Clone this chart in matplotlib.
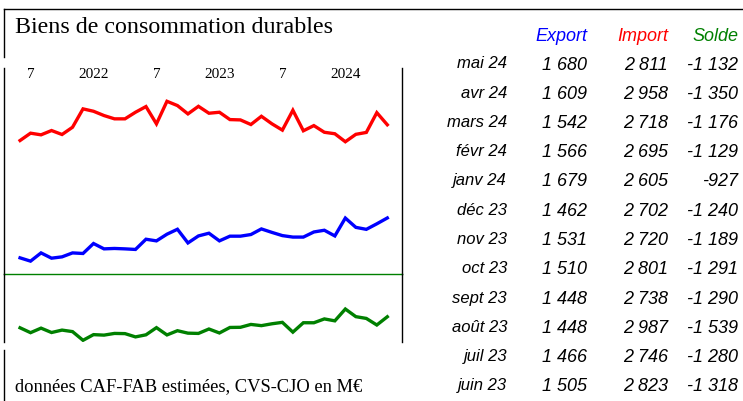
"""Biens de consommation durables: export / import / solde, monthly, with recent-months table."""

import matplotlib
matplotlib.use("Agg")
import matplotlib.pyplot as plt
import numpy as np
from matplotlib.lines import Line2D

# monthly series, June 2021 -> May 2024 (M EUR)
exports = [1196, 1156, 1256, 1192, 1208, 1256, 1249, 1370, 1305, 1310, 1305, 1298,
           1422, 1402, 1483, 1543, 1377, 1462, 1495, 1402, 1459, 1459, 1479, 1547,
           1505, 1466, 1448, 1448, 1510, 1531, 1462, 1679, 1566, 1542, 1609, 1680]
imports = [2620, 2709, 2689, 2741, 2693, 2781, 3004, 2975, 2923, 2883, 2883, 2963,
           3032, 2822, 3096, 3044, 2943, 3035, 2951, 2963, 2874, 2870, 2814, 2914,
           2823, 2746, 2987, 2738, 2801, 2720, 2702, 2605, 2695, 2718, 2958, 2811]
soldes = [-1424, -1553, -1433, -1549, -1485, -1525, -1755, -1605, -1618, -1573, -1578, -1665,
          -1610, -1420, -1613, -1501, -1566, -1573, -1456, -1561, -1415, -1411, -1335, -1367,
          -1318, -1280, -1539, -1290, -1291, -1189, -1240, -927, -1129, -1176, -1350, -1132]

# x tick labels (month index from June 2021)
tick_pos = [1, 7, 13, 19, 25, 31]
tick_labels = ["7", "2022", "7", "2023", "7", "2024"]

# table, most recent first
table_months = ["mai 24", "avr 24", "mars 24", "févr 24", "janv 24", "déc 23",
                "nov 23", "oct 23", "sept 23", "août 23", "juil 23", "juin 23"]
table_headers = ["Export", "Import", "Solde"]

RED, BLUE, GREEN = "#ff0000", "#0000ff", "#008000"
W, H = 743, 401


def fx(px):
    return px / W


def fy(py):
    return 1 - py / H


def fmt(v):
    return f"{v:,}".replace(",", " ")


fig = plt.figure(figsize=(W / 100, H / 100), dpi=100, facecolor="white")

ax_top = fig.add_axes([fx(4), fy(274), fx(402) - fx(4), fy(68) - fy(274)])
ax_bot = fig.add_axes([fx(4), fy(342), fx(402) - fx(4), fy(274) - fy(342)])

x = np.arange(len(exports))
ax_top.plot(x, imports, color=RED, lw=2.4, solid_joinstyle="miter")
ax_top.plot(x, exports, color=BLUE, lw=2.4, solid_joinstyle="miter")
ax_bot.plot(x, soldes, color=GREEN, lw=2.4, solid_joinstyle="miter")
ax_bot.axhline(0, color=GREEN, lw=1.0, clip_on=False)

for ax in (ax_top, ax_bot):
    ax.set_xlim(-1.53, 36.4)
    ax.set_facecolor("none")
    ax.spines["top"].set_visible(False)
    ax.spines["bottom"].set_visible(False)
    for s in ("left", "right"):
        ax.spines[s].set_linewidth(1.0)
    ax.set_yticks([])
ax_top.set_ylim(1000, 3500)
ax_bot.set_ylim(-1800, 0)
ax_bot.set_xticks([])

ax_top.set_xticks(tick_pos, tick_labels, fontfamily="Liberation Serif", fontsize=11)
ax_top.tick_params(axis="x", top=False, bottom=False, labeltop=True,
                   labelbottom=False, length=0, pad=-9)

# outer frame pieces
frame = dict(transform=fig.transFigure, color="black", lw=1.0)
fig.add_artist(Line2D([fx(4), 1], [fy(9), fy(9)], **frame))
fig.add_artist(Line2D([fx(4), fx(4)], [fy(9), fy(57)], **frame))
fig.add_artist(Line2D([fx(4), fx(4)], [fy(350), fy(401)], **frame))

fig.text(fx(15), fy(33), "Biens de consommation durables", fontfamily="Liberation Serif",
         fontsize=17.3, va="baseline", ha="left")
fig.text(fx(15), fy(391.5), "données CAF-FAB estimées, CVS-CJO en M€",
         fontfamily="Liberation Serif", fontsize=13.3, va="baseline", ha="left")

# table
col_right = [587, 668, 738]
for txt, xr, c in zip(table_headers, col_right, [BLUE, RED, GREEN]):
    fig.text(fx(xr), fy(40.7), txt, color=c, fontfamily="Liberation Sans", style="italic",
             fontsize=13, ha="right", va="baseline")

for k, m in enumerate(table_months):
    yb = 68.5 + k * 29.25
    i = len(exports) - 1 - k
    fig.text(fx(507), fy(yb), m, fontfamily="Liberation Sans", style="italic",
             fontsize=12, ha="right", va="baseline")
    for v, xr in zip([exports[i], imports[i], soldes[i]], col_right):
        fig.text(fx(xr), fy(yb + 1), fmt(v), fontfamily="Liberation Sans", style="italic",
                 fontsize=13, ha="right", va="baseline")

fig.savefig("out.png", dpi=100, facecolor="white")
